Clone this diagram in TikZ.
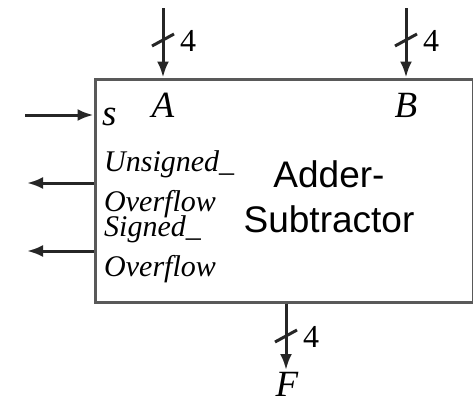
\documentclass[tikz,border=0pt]{standalone}
\usepackage{fontspec}
\setmainfont{Liberation Serif}
\newfontfamily\blockfont{Liberation Sans}
\usetikzlibrary{arrows.meta}

% slash across a bus line, with its width
\newcommand{\busmark}[3]{%
  \draw[wire] (#1) ++(-11,6) -- ++(22,-12);
  \node[width, anchor=base west] (#2) at ([xshift=17pt,yshift=-11pt]#1) {#3};}

\begin{document}
\begin{tikzpicture}[
  x=1pt, y=-1pt,
  wire/.style={line width=3pt, draw=black!85},
  sig/.style={wire, -{Latex[length=16pt,width=12pt]}},
  port/.style={inner sep=0pt, font=\fontsize{37}{40}\selectfont\itshape},
  width/.style={inner sep=0pt, font=\fontsize{32}{34}\selectfont},
  flag/.style={inner sep=0pt, align=left, font=\fontsize{30}{40}\selectfont\itshape}
]
\useasboundingbox (0,0) rectangle (473,402);

% the block
\node[draw=black!65, line width=3pt, minimum width=378pt, minimum height=223pt,
  inner sep=0pt] (box) at (284,190.5) {};
\node[align=center, inner sep=0pt, anchor=base,
  font=\fontsize{37}{45}\selectfont\blockfont] (title) at (329,232) {Adder-\\Subtractor};

% inputs
\coordinate (inA) at (163,8);
\coordinate (inB) at (406,8);
\coordinate (inS) at (25,115);
\draw[sig] (inA) -- (inA |- box.north);
\draw[sig] (inB) -- (inB |- box.north);
\draw[sig] (inS) -- (inS -| box.west);
\busmark{163,40}{wA}{4}
\busmark{406,40}{wB}{4}

\node[port, anchor=base] (labA) at (163,117) {A};
\node[port, anchor=base] (labB) at (406,117) {B};
\node[port, anchor=base west] (labS) at (102,125) {s};

% outputs
\coordinate (outU) at (27,183);
\coordinate (outV) at (27,251);
\draw[sig] (outU -| box.west) -- (outU);
\draw[sig] (outV -| box.west) -- (outV);
\node[flag, anchor=base west] (labU) at (104,211) {Unsigned\_\\Overflow};
\node[flag, anchor=base west] (labV) at (104,276) {Signed\_\\Overflow};

\coordinate (outF) at (286,370);
\draw[sig] (outF |- box.south) -- (outF);
\busmark{286,336}{wF}{4}
\node[port, anchor=base] (labF) at (287,396) {F};

\end{tikzpicture}
\end{document}
